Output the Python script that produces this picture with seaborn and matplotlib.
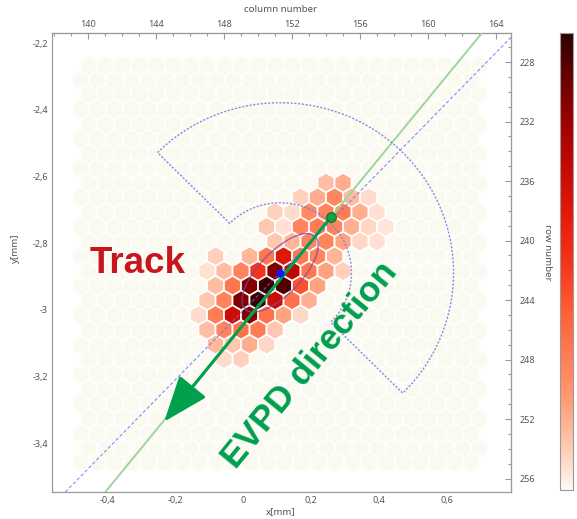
import numpy as np
import pandas as pd
import matplotlib
matplotlib.use("Agg")
import matplotlib.pyplot as plt
import seaborn as sns
from matplotlib.colors import LinearSegmentedColormap, Normalize
from matplotlib.ticker import MultipleLocator, FuncFormatter, NullFormatter
from matplotlib.patches import Ellipse
from matplotlib.cm import ScalarMappable

# ---------------- data ----------------
n_rows = 28            # hexagon rows in the sensor window
n_cols = 24            # hexagons per row
first_col = 140        # column number of first hexagon (even rows)
pitch = 0.05           # mm, column pitch
row_pitch = 0.0441     # mm, hex row spacing
x_first = -0.456       # mm, x of column 140
y_first = -2.266       # mm, y of top hex row

hit_row = [8, 8,
           9, 9, 9, 9, 9,
           10, 10, 10, 10, 10, 10, 10,
           11, 11, 11, 11, 11, 11, 11, 11,
           12, 12, 12, 12, 12, 12, 12,
           13, 13, 13, 13, 13, 13, 13,
           14, 14, 14, 14, 14, 14, 14, 14, 14,
           15, 15, 15, 15, 15, 15, 15,
           16, 16, 16, 16, 16, 16, 16,
           17, 17, 17, 17, 17, 17, 17,
           18, 18, 18, 18, 18,
           19, 19, 19, 19,
           20, 20]
hit_col = [14, 15,
           13, 14, 15, 16, 17,
           11, 12, 13, 14, 15, 16, 17,
           11, 12, 13, 14, 15, 16, 17, 18,
           11, 12, 13, 14, 15, 16, 17,
           8, 10, 11, 12, 13, 14, 15,
           7, 8, 9, 10, 11, 12, 13, 14, 15,
           8, 9, 10, 11, 12, 13, 14,
           7, 8, 9, 10, 11, 12, 13,
           7, 8, 9, 10, 11, 12, 13,
           7, 8, 9, 10, 11,
           8, 9, 10, 11,
           8, 9]
hit_val = [0.12, 0.16,
           0.08, 0.16, 0.26, 0.13, 0.06,
           0.08, 0.06, 0.25, 0.27, 0.29, 0.16, 0.05,
           0.10, 0.05, 0.27, 0.30, 0.27, 0.15, 0.07, 0.04,
           0.10, 0.14, 0.27, 0.27, 0.18, 0.07, 0.05,
           0.08, 0.14, 0.31, 0.62, 0.31, 0.27, 0.14,
           0.05, 0.12, 0.27, 0.50, 0.85, 0.72, 0.31, 0.18, 0.08,
           0.12, 0.31, 0.85, 0.97, 0.93, 0.42, 0.18,
           0.10, 0.27, 0.85, 0.97, 0.68, 0.33, 0.15,
           0.06, 0.29, 0.68, 0.85, 0.33, 0.18, 0.07,
           0.12, 0.27, 0.33, 0.29, 0.10,
           0.13, 0.10, 0.16, 0.07,
           0.06, 0.08]

x_ticks = [-0.4, -0.2, 0.0, 0.2, 0.4, 0.6]
y_ticks = [-2.2, -2.4, -2.6, -2.8, -3.0, -3.2, -3.4]
col_ticks = [140, 144, 148, 152, 156, 160, 164]
row_ticks = [228, 232, 236, 240, 244, 248, 252, 256]
row_ref, row_ref_y, row_step = 228, -2.257, 0.0446

centroid = (0.109, -2.889)          # blue point
seed = (0.259, -2.721)              # green point
arrow_tip = (-0.232, -3.335)
track_slope = 1.242
evpd_slope = 1.04
ell_axes = (0.30, 0.125)            # full width / height of ellipse, mm
ell_angle = 47
sector_r = (0.21, 0.51)
sector_deg = (-45, 135)

track_label = "Track"
evpd_label = "EVPD direction"

cmap_colors = ["#fff8f4", "#ffc6ae", "#ff9a74", "#ff7a52", "#ff5a32",
               "#f5321a", "#e41a08", "#c80a02", "#a00000", "#6a0000", "#2a0000"]

# ---------------- style ----------------
sns.set_style("white")
plt.rcParams["font.family"] = ["Noto Sans", "DejaVu Sans"]
grey_txt = "#555555"
grey_line = "#9a9a9a"

cmap = LinearSegmentedColormap.from_list("hits", cmap_colors)
norm = Normalize(0, 1)

W, H = 577, 519
fig = plt.figure(figsize=(W / 100, H / 100), dpi=100)
ax = fig.add_axes([52 / W, 1 - 492 / H, 459 / W, 459 / H])

# grid of hexagons
rows, cols = np.meshgrid(np.arange(n_rows), np.arange(n_cols), indexing="ij")
grid = pd.DataFrame({"r": rows.ravel(), "k": cols.ravel()})
def hex_xy(df):
    df = df.copy()
    df["x"] = x_first + pitch * df["k"] - (pitch / 2) * (df["r"] % 2)
    df["y"] = y_first - row_pitch * df["r"]
    return df
grid = hex_xy(grid)
hits = hex_xy(pd.DataFrame({"r": hit_row, "k": hit_col, "val": hit_val}))

HEX_S = 199
sns.scatterplot(data=grid, x="x", y="y", color="#fafaf1", marker="h", s=HEX_S,
                edgecolor="white", linewidth=1.2, legend=False, ax=ax, zorder=1)
sns.scatterplot(data=hits, x="x", y="y", hue="val", palette=cmap, hue_norm=(0, 1),
                marker="h", s=HEX_S, edgecolor="white", linewidth=1.2,
                legend=False, ax=ax, zorder=2)

# lines
ax.axline(seed, slope=track_slope, color="#9fd49f", lw=1.4, zorder=3)
ax.axline(centroid, slope=evpd_slope, color="#6b6bff", lw=0.8,
          ls=(0, (3, 2)), alpha=0.8, zorder=3)

# annular sector
t = np.deg2rad(np.linspace(sector_deg[1], sector_deg[0], 120))
t_back = t[::-1]
sx = np.concatenate([centroid[0] + sector_r[1] * np.cos(t),
                     centroid[0] + sector_r[0] * np.cos(t_back)])
sy = np.concatenate([centroid[1] + sector_r[1] * np.sin(t),
                     centroid[1] + sector_r[0] * np.sin(t_back)])
sx = np.append(sx, sx[0]); sy = np.append(sy, sy[0])
ax.plot(sx, sy, color="#7474e6", lw=1.0, ls=(0, (1.5, 1.2)), alpha=0.85, zorder=3)

ax.add_patch(Ellipse(centroid, ell_axes[0], ell_axes[1], angle=ell_angle,
                     facecolor="none", edgecolor="#7a48a8", lw=1.0, alpha=0.75, zorder=3))

# arrow
ax.annotate("", xy=arrow_tip, xytext=seed,
            arrowprops=dict(arrowstyle="-|>,head_length=0.95,head_width=0.36",
                            mutation_scale=30, color="#00a04e", lw=2.2,
                            shrinkA=0, shrinkB=0), zorder=4)

ax.scatter([seed[0]], [seed[1]], s=48, color="#13a040", edgecolor="#0b6e2c", lw=0.8, zorder=5)
ax.scatter([centroid[0]], [centroid[1]], s=34, color="#1515ff", lw=0, zorder=5)

# texts
ax.text(-0.45, -2.8897, track_label, color="#c8161e", fontsize=26.5, fontweight="bold",
        family=["Liberation Sans", "DejaVu Sans"], ha="left", va="baseline", zorder=6)
ax.text(0.195, -3.166, evpd_label, color="#009e4f", fontsize=25.5, fontweight="bold",
        family=["Liberation Sans", "DejaVu Sans"], rotation=50.6,
        rotation_mode="anchor", ha="center", va="center", zorder=6)

# axes
ax.set_xlim(-0.562, 0.788)
ax.set_ylim(-3.546, -2.170)

def comma(v, pos=None):
    s = f"{v:.2f}".rstrip("0").rstrip(".")
    if s in ("-0", ""):
        s = "0"
    return s.replace(".", ",")

ax.set_xticks(x_ticks)
ax.set_yticks(y_ticks)
ax.xaxis.set_major_formatter(FuncFormatter(comma))
ax.yaxis.set_major_formatter(FuncFormatter(comma))
ax.xaxis.set_minor_locator(MultipleLocator(0.05))
ax.yaxis.set_minor_locator(MultipleLocator(0.05))
ax.tick_params(which="both", direction="in", colors=grey_line, labelcolor=grey_txt,
               labelsize=6.5, width=0.8)
ax.tick_params(which="major", length=4, pad=3)
ax.tick_params(which="minor", length=2)
ax.set_xlabel("x[mm]", fontsize=7, color=grey_txt)
ax.set_ylabel("y[mm]", fontsize=7, color=grey_txt)
ax.xaxis.set_label_coords(0.499, -0.033)
ax.yaxis.set_label_coords(-0.07, 0.532)
for sp in ax.spines.values():
    sp.set_color(grey_line); sp.set_linewidth(0.9)

secx = ax.secondary_xaxis("top", functions=(
    lambda x: first_col + (x - x_first) / pitch,
    lambda c: x_first + pitch * (c - first_col)))
secx.set_xticks(col_ticks)
secx.xaxis.set_minor_locator(MultipleLocator(1))
secx.tick_params(which="both", direction="in", colors=grey_line, labelcolor=grey_txt,
                 labelsize=6.5, width=0.8)
secx.tick_params(which="major", length=4, pad=3)
secx.tick_params(which="minor", length=2)
secx.set_xlabel("column number", fontsize=7, color=grey_txt)
secx.xaxis.set_label_coords(0.499, 1.052, transform=ax.transAxes)
secx.xaxis.label.set_va("center")
secx.spines["top"].set_color(grey_line)

secy = ax.secondary_yaxis("right", functions=(
    lambda y: row_ref + (row_ref_y - y) / row_step,
    lambda r: row_ref_y - row_step * (r - row_ref)))
secy.set_yticks(row_ticks)
secy.yaxis.set_minor_locator(MultipleLocator(1))
secy.tick_params(which="both", direction="in", colors=grey_line, labelcolor=grey_txt,
                 labelsize=6.5, width=0.8)
secy.tick_params(which="major", length=4, pad=6)
secy.tick_params(which="minor", length=2)
secy.set_ylabel("row number", fontsize=7, color=grey_txt, rotation=270)
secy.yaxis.set_label_coords(1.0806, 0.523, transform=ax.transAxes)
secy.yaxis.label.set_ha("center")
secy.yaxis.label.set_va("center")
secy.spines["right"].set_color(grey_line)

# colorbar
cax = fig.add_axes([560 / W, 1 - 490 / H, 13 / W, 457 / H])
cb = fig.colorbar(ScalarMappable(norm=norm, cmap=cmap), cax=cax)
cb.outline.set_edgecolor(grey_line)
cb.outline.set_linewidth(0.8)
cb.set_ticks(np.linspace(0, 1, 6))
cax.yaxis.set_minor_locator(MultipleLocator(0.05))
cax.yaxis.set_major_formatter(NullFormatter())
cax.tick_params(which="both", direction="in", colors="#777777", width=0.6)
cax.tick_params(which="major", length=3)
cax.tick_params(which="minor", length=1.5)

fig.savefig("out.png", dpi=100)
